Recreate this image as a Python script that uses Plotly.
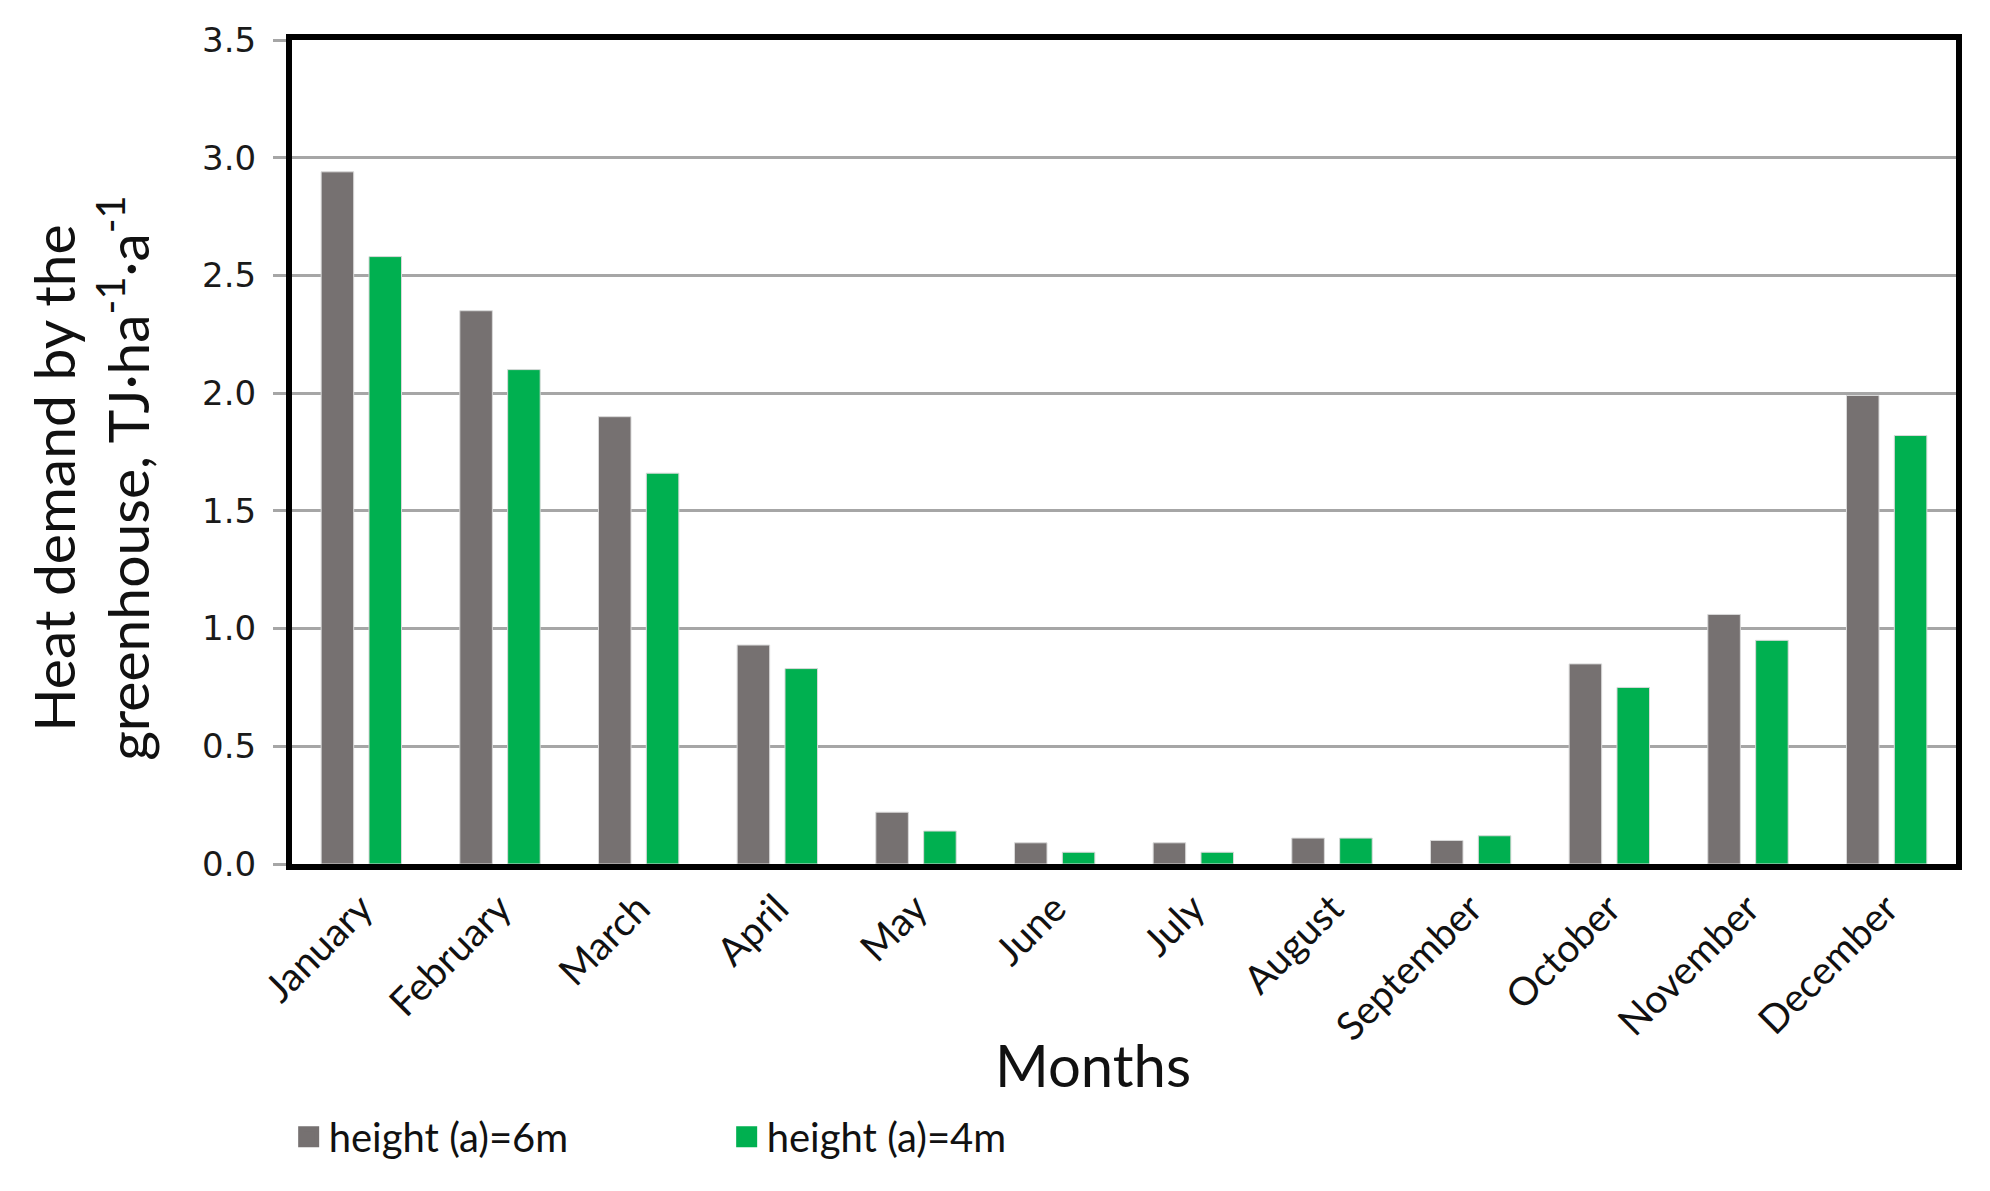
import plotly.graph_objects as go

months = ["January", "February", "March", "April", "May", "June", "July",
          "August", "September", "October", "November", "December"]
h6 = [2.94, 2.35, 1.90, 0.93, 0.22, 0.09, 0.09, 0.11, 0.10, 0.85, 1.06, 1.99]
h4 = [2.58, 2.10, 1.66, 0.83, 0.14, 0.05, 0.05, 0.11, 0.12, 0.75, 0.95, 1.82]
series_names = ["height (a)=6m", "height (a)=4m"]
colors = ["#767171", "#00B050"]
y_ticks = [0.0, 0.5, 1.0, 1.5, 2.0, 2.5, 3.0, 3.5]

W, H = 1990, 1191
L, R, T, B = 284, 42, 28, 335
pw, ph = W - L - R, H - T - B
bottom = T + ph

fig = go.Figure()
for name, vals, c in zip(series_names, [h6, h4], colors):
    fig.add_trace(go.Bar(x=months, y=vals, name=name,
                         marker=dict(color=c, line=dict(color="#D9D9D9", width=1)),
                         showlegend=False))
    fig.add_trace(go.Scatter(x=[None], y=[None], mode="markers", name=name,
                             marker=dict(symbol="square", size=16, color=c,
                                         line=dict(color=c, width=5))))

fig.update_layout(
    width=W, height=H,
    margin=dict(l=L, r=R, t=T, b=B),
    paper_bgcolor="white", plot_bgcolor="white",
    barmode="group", bargap=0.31, bargroupgap=0.32,
    font=dict(family="Lato, sans-serif", color="#111111"),
    legend=dict(orientation="h", x=-0.002, xanchor="left", y=-(1130 - bottom) / ph, yanchor="middle",
                font=dict(family="Lato, sans-serif", size=40, color="#111111"),
                entrywidth=393, entrywidthmode="pixels", itemsizing="trace"),
    xaxis=dict(showline=True, linecolor="black", linewidth=6, mirror=True,
               tickangle=-45, tickfont=dict(family="Lato, sans-serif", size=39, color="#111111"),
               ticks="", showgrid=False),
    yaxis=dict(range=[0, 3.5], tickvals=y_ticks, ticktext=[f"{v:.1f}" for v in y_ticks],
               showline=True, linecolor="black", linewidth=6, mirror=True,
               showgrid=True, gridcolor="#A6A6A6", gridwidth=3, zeroline=False,
               ticks="outside", ticklen=13, tickcolor="#A6A6A6", tickwidth=3,
               ticklabelstandoff=10,
               tickfont=dict(family="DejaVu Sans, sans-serif", size=34, color="#1a1a1a")),
    annotations=[
        dict(text="Months", xref="paper", yref="paper",
             x=(1085 - L) / pw, y=-(1057 - bottom) / ph, xanchor="center", yanchor="middle",
             showarrow=False, font=dict(family="Lato, sans-serif", size=58, color="#111111")),
        dict(text="Heat demand by the<br>greenhouse, TJ·ha<sup>-1</sup>·a<sup>-1</sup>",
             xref="paper", yref="paper", x=(82 - L) / pw, y=1 - (468 - T) / ph,
             xanchor="center", yanchor="middle", textangle=-90, showarrow=False,
             font=dict(family="Lato, sans-serif", size=57, color="#111111")),
    ],
)

fig.write_html("out.html")
